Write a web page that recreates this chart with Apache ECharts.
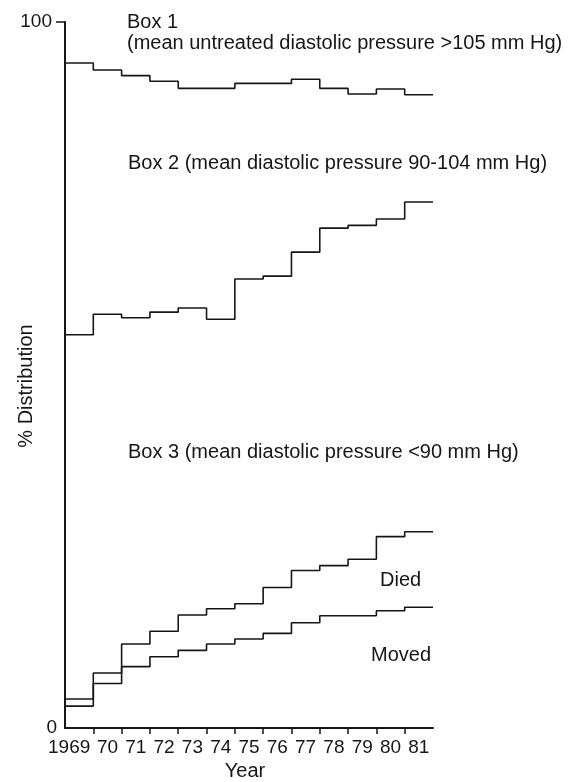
<!DOCTYPE html>
<html>
<head>
<meta charset="utf-8">
<script src="https://cdn.jsdelivr.net/npm/echarts@6/dist/echarts.min.js"></script>
<style>
  html, body { margin: 0; padding: 0; background: #fff; }
  #chart { width: 574px; height: 782px; }
</style>
</head>
<body>
<div id="chart"></div>
<script>
// year per step (each step covers one year)
var years = ['1969', '70', '71', '72', '73', '74', '75', '76', '77', '78', '79', '80', '81'];
// % distribution
var box1 = [94.2, 93.2, 92.4, 91.6, 90.6, 90.6, 91.3, 91.3, 91.9, 90.6, 89.8, 90.5, 89.7];
var box2 = [55.7, 58.6, 58.1, 58.9, 59.5, 57.9, 63.6, 64.0, 67.4, 70.8, 71.2, 72.1, 74.5];
var died = [4.1, 7.8, 11.9, 13.7, 16.0, 16.9, 17.6, 19.9, 22.3, 23.0, 23.9, 27.1, 27.8];
var moved = [3.1, 6.3, 8.7, 10.1, 11.0, 11.9, 12.6, 13.4, 14.9, 15.9, 15.9, 16.6, 17.1];
var yTicks = [0, 100];
var notes = [
  'Box 1',
  '(mean untreated diastolic pressure >105 mm Hg)',
  'Box 2 (mean diastolic pressure 90-104 mm Hg)',
  'Box 3 (mean diastolic pressure <90 mm Hg)',
  'Died',
  'Moved'
];

var FONT = '"Liberation Sans", Arial, Helvetica, sans-serif';
var INK = '#161616';

// step points: one per year plus the closing edge
function steps(vals) {
  var pts = vals.map(function (v, i) { return [i, v]; });
  pts.push([vals.length, vals[vals.length - 1]]);
  return pts;
}

function stepSeries(name, vals) {
  return {
    name: name,
    type: 'line',
    step: 'end',
    symbol: 'none',
    silent: true,
    lineStyle: { color: INK, width: 1.6 },
    data: steps(vals)
  };
}

function note(txt, left, top) {
  return {
    type: 'text',
    left: left,
    top: top,
    silent: true,
    style: { text: txt, fontSize: 20, fontFamily: FONT, fill: INK }
  };
}

var myChart = echarts.init(document.getElementById('chart'));

var option = {
  backgroundColor: '#fff',
  animation: false,
  grid: { left: 65, right: 141, top: 22, bottom: 54, outerBoundsMode: 'none' },
  xAxis: {
    type: 'value',
    min: 0,
    max: years.length,
    interval: 1,
    name: 'Year',
    nameLocation: 'middle',
    nameGap: 33,
    nameMoveOverlap: false,
    nameTextStyle: { fontSize: 20, fontFamily: FONT, color: INK, padding: [0, 8, 0, 0] },
    splitLine: { show: false },
    axisLine: { show: true, lineStyle: { color: INK, width: 2 } },
    axisTick: {
      show: true,
      length: 6,
      lineStyle: { color: INK, width: 1.5 },
      customValues: years.slice(1).map(function (y, i) { return i + 1; })
    },
    axisLabel: {
      fontSize: 19,
      fontFamily: FONT,
      color: INK,
      margin: 10,
      customValues: years.map(function (y, i) { return i + 0.5; }),
      formatter: function (v) {
        var i = Math.floor(v);
        return i === 0 ? '{first|' + years[i] + '}' : years[i];
      },
      rich: {
        first: { fontSize: 19, fontFamily: FONT, color: INK, padding: [0, 20, 0, 0] }
      }
    }
  },
  yAxis: {
    type: 'value',
    min: 0,
    max: 100,
    interval: 100,
    name: '% Distribution',
    nameLocation: 'middle',
    nameRotate: 90,
    nameGap: 29,
    nameMoveOverlap: false,
    nameTextStyle: { fontSize: 20, fontFamily: FONT, color: INK, padding: [0, 22, 0, 0] },
    splitLine: { show: false },
    axisLine: { show: true, lineStyle: { color: INK, width: 2 } },
    axisTick: {
      show: true,
      length: 9,
      lineStyle: { color: INK, width: 1.5 },
      customValues: [100]
    },
    axisLabel: {
      fontSize: 19,
      fontFamily: FONT,
      color: INK,
      margin: 8,
      customValues: yTicks,
      formatter: function (v) {
        return v === 100 ? '{top|100}' : String(v);
      },
      rich: {
        top: { fontSize: 19, fontFamily: FONT, color: INK, padding: [0, 5, 0, 0] }
      }
    }
  },
  graphic: [
    note(notes[0], 127, 12),
    note(notes[1], 127, 33),
    note(notes[2], 128, 153),
    note(notes[3], 128, 442),
    note(notes[4], 380, 570),
    note(notes[5], 371, 645)
  ],
  series: [
    stepSeries('Box 1', box1),
    stepSeries('Box 2', box2),
    stepSeries('Died', died),
    stepSeries('Moved', moved)
  ]
};

myChart.setOption(option);
</script>
</body>
</html>
